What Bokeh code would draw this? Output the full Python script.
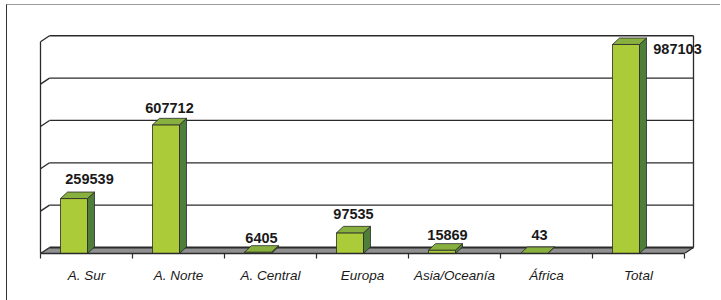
from bokeh.plotting import figure
from bokeh.models import ColumnDataSource, Range1d, LinearAxis, FixedTicker
from bokeh.core.properties import value
from bokeh.embed import file_html
from bokeh.resources import INLINE

# ---- data ----
categories = ["A. Sur", "A. Norte", "A. Central", "Europa", "Asia/Oceanía", "África", "Total"]
counts = [259539, 607712, 6405, 97535, 15869, 43, 987103]
grid_values = [0, 200000, 400000, 600000, 800000, 1000000]

# ---- styles / geometry (pixels) ----
ORIGIN_X, ORIGIN_Y = 7, 5        # canvas origin on the page (after margin + border)
PX_CAT = 92.0                    # px per category slot
PX_UNIT = 42.35 / 200000         # px per value unit
FRAME_W = 713
FRAME_H = 253 - ORIGIN_Y         # value 0 (front of floor) at page y 253
LEFT_PAD = 40 - ORIGIN_X + 46    # px from frame left to first category centre
WALL_DX, WALL_DY = 9, 6          # depth of floor / back wall
BAR_DX, BAR_DY = 7, 6.5          # depth of bars
BAR_OFF, BAR_W = 20 - 46, 27     # bar front face relative to category centre
LABEL_DX = [12, 0, 0, 0, 2, 2, 48]
LABEL_GAP = [13.5, 10, 8, 12.5, 8.5, 11.5, -11.5]

FRONT = "#ABCB39"
SIDE = "#4F7D3A"
TOP = "#88B03E"
EDGE = "#2A2A2A"
FLOOR = "#909090"
TEXT = "#1A1A1A"
FONT = "Liberation Sans"

n = len(categories)
xs0 = -LEFT_PAD / PX_CAT
p = figure(frame_width=FRAME_W, frame_height=FRAME_H,
           x_range=Range1d(xs0, xs0 + FRAME_W / PX_CAT),
           y_range=Range1d(0, FRAME_H / PX_UNIT),
           output_backend="svg", toolbar_location=None,
           x_axis_location=None, y_axis_location=None,
           min_border=0, min_border_bottom=300 - 253,
           outline_line_color=None,
           background_fill_color="white", border_fill_color="white")
p.xgrid.visible = False
p.ygrid.visible = False
p.styles = {"margin-left": "6px", "margin-top": "4px",
            "border-top": "1px solid #9a9a9a", "border-left": "1px solid #333333"}

dxw, dyw = WALL_DX / PX_CAT, WALL_DY / PX_UNIT
dxb, dyb = BAR_DX / PX_CAT, BAR_DY / PX_UNIT
lo, hi = -0.5, n - 0.5

# floor
p.patch([lo, hi, hi + dxw, lo + dxw], [0, 0, dyw, dyw], fill_color=FLOOR, line_color=None)
p.segment(x0=[hi], y0=[0], x1=[hi + dxw], y1=[dyw], line_color=EDGE, line_width=1.2)

# back wall gridlines and left diagonals
gsrc = ColumnDataSource(dict(
    x0=[lo + dxw] * len(grid_values), x1=[hi + dxw] * len(grid_values),
    y=[g + dyw for g in grid_values], g=grid_values,
    w=[2.2 if g == 0 else 1.3 for g in grid_values]))
p.segment(x0="x0", y0="y", x1="x1", y1="y", line_width="w", line_color=EDGE, source=gsrc)
p.segment(x0=[lo] * len(grid_values), y0=grid_values,
          x1=[lo + dxw] * len(grid_values), y1=[g + dyw for g in grid_values],
          line_color=EDGE, line_width=1.3)
p.segment(x0=[lo], y0=[0], x1=[lo], y1=[grid_values[-1]], line_color=EDGE, line_width=1.3)
p.segment(x0=[hi + dxw], y0=[dyw], x1=[hi + dxw], y1=[grid_values[-1] + dyw],
          line_color=EDGE, line_width=1.3)

# bars
left = [i + BAR_OFF / PX_CAT for i in range(n)]
right = [l + BAR_W / PX_CAT for l in left]
p.quad(left=left, right=right, bottom=[0] * n, top=counts,
       fill_color=FRONT, line_color=EDGE, line_width=0.8)
side_xs = [[r, r + dxb, r + dxb, r] for r in right]
side_ys = [[0, dyb, v + dyb, v] for v in counts]
p.patches(side_xs, side_ys, fill_color=SIDE, line_color=EDGE, line_width=0.8)
top_xs = [[l, r, r + dxb, l + dxb] for l, r in zip(left, right)]
top_ys = [[v, v, v + dyb, v + dyb] for v in counts]
p.patches(top_xs, top_ys, fill_color=TOP, line_color=EDGE, line_width=0.8)

# value labels
lsrc = ColumnDataSource(dict(
    x=[l + (BAR_W + BAR_DX) / 2 / PX_CAT + d / PX_CAT for l, d in zip(left, LABEL_DX)],
    y=[v + dyb + g / PX_UNIT for v, g in zip(counts, LABEL_GAP)],
    t=[str(v) for v in counts]))
p.text(x="x", y="y", text="t", source=lsrc, text_align="center",
       text_baseline="alphabetic", text_font=value(FONT), text_font_style="bold",
       text_font_size="14.5px", text_color=TEXT)

# category axis
ax = LinearAxis(ticker=FixedTicker(ticks=list(range(n)),
                                   minor_ticks=[i - 0.5 for i in range(n + 1)]),
                major_label_overrides={i: c for i, c in enumerate(categories)},
                bounds=(lo, hi))
ax.axis_line_color = EDGE
ax.axis_line_width = 1.4
ax.major_tick_line_color = None
ax.major_tick_out = 0
ax.major_tick_in = 0
ax.minor_tick_line_color = EDGE
ax.minor_tick_out = 5
ax.minor_tick_in = 0
ax.minor_tick_line_width = 1.2
ax.major_label_standoff = 9
ax.major_label_text_font = FONT
ax.major_label_text_font_style = "italic"
ax.major_label_text_font_size = "13.5px"
ax.major_label_text_color = TEXT
p.add_layout(ax, "below")

open("out.html", "w").write(file_html(p, INLINE))
